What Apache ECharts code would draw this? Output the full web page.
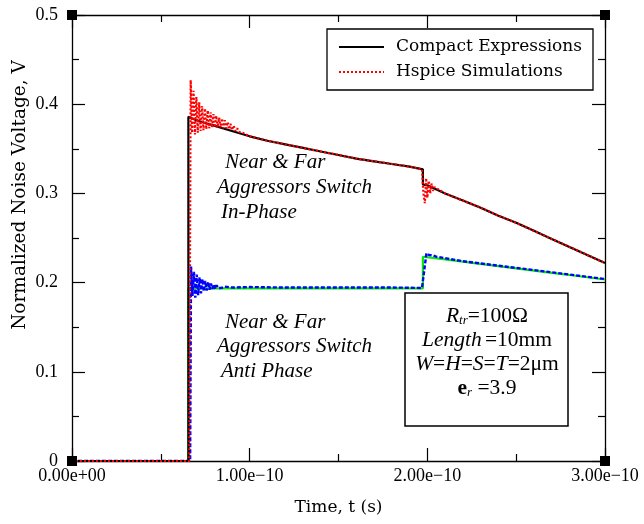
<!DOCTYPE html>
<html>
<head>
<meta charset="utf-8">
<script src="https://cdn.jsdelivr.net/npm/echarts@6/dist/echarts.min.js"></script>
<style>
html,body{margin:0;padding:0;background:#fff;}
#chart{width:644px;height:524px;}
</style>
</head>
<body>
<div id="chart"></div>
<script>
// Time in units of 1e-10 s
const xTickLabels = ['0.00e+00', '1.00e\u221210', '2.00e\u221210', '3.00e\u221210'];
const yTickLabels = ['0', '0.1', '0.2', '0.3', '0.4', '0.5'];

// Near & Far aggressors switch in-phase — compact expressions (black)
const tInCompact = [0, 0.655, 0.655, 0.70, 0.75, 0.80, 0.90, 1.00, 1.10, 1.20, 1.30, 1.40, 1.50, 1.60, 1.70, 1.80, 1.90, 1.975, 1.975, 2.00, 2.10, 2.20, 2.30, 2.40, 2.50, 2.60, 2.70, 2.80, 2.90, 3.00];
const vInCompact = [0, 0, 0.386, 0.382, 0.379, 0.376, 0.370, 0.364, 0.359, 0.355, 0.351, 0.347, 0.343, 0.339, 0.336, 0.333, 0.330, 0.327, 0.310, 0.309, 0.300, 0.292, 0.284, 0.275, 0.267, 0.258, 0.249, 0.240, 0.231, 0.222];

// In-phase — Hspice simulation (red dotted), with ringing
const tInHspice = [0, 0.660, 0.668, 0.676, 0.684, 0.692, 0.700, 0.708, 0.716, 0.724, 0.732, 0.740, 0.748, 0.756, 0.764, 0.772, 0.780, 0.788, 0.796, 0.804, 0.812, 0.820, 0.828, 0.836, 0.844, 0.852, 0.860, 0.868, 0.876, 0.884, 0.892, 0.900, 0.910, 0.920, 0.930, 0.940, 0.960, 1.00, 1.10, 1.20, 1.30, 1.40, 1.50, 1.60, 1.70, 1.80, 1.90, 1.970, 1.978, 1.986, 1.993, 2.000, 2.008, 2.016, 2.024, 2.032, 2.040, 2.050, 2.10, 2.20, 2.30, 2.40, 2.50, 2.60, 2.70, 2.80, 2.90, 3.00];
const vInHspice = [0, 0, 0.427, 0.368, 0.415, 0.366, 0.408, 0.368, 0.402, 0.370, 0.398, 0.371, 0.395, 0.372, 0.393, 0.373, 0.391, 0.374, 0.389, 0.374, 0.387, 0.374, 0.385, 0.374, 0.384, 0.373, 0.382, 0.373, 0.380, 0.372, 0.378, 0.371, 0.376, 0.370, 0.373, 0.369, 0.368, 0.364, 0.359, 0.355, 0.351, 0.347, 0.343, 0.339, 0.336, 0.333, 0.330, 0.327, 0.300, 0.289, 0.317, 0.295, 0.314, 0.300, 0.311, 0.303, 0.307, 0.305, 0.300, 0.292, 0.284, 0.275, 0.267, 0.258, 0.249, 0.240, 0.231, 0.222];

// Anti-phase — compact expressions (green)
const tAntiCompact = [0, 0.655, 0.655, 1.975, 1.975, 2.10, 2.20, 2.30, 2.40, 2.50, 2.60, 2.70, 2.80, 2.90, 3.00];
const vAntiCompact = [0, 0, 0.1935, 0.1935, 0.229, 0.226, 0.2235, 0.221, 0.2185, 0.216, 0.2135, 0.211, 0.2085, 0.206, 0.2035];

// Anti-phase — Hspice simulation (blue dashed), with ringing
const tAntiHspice = [0, 0.665, 0.670, 0.678, 0.686, 0.694, 0.702, 0.710, 0.718, 0.726, 0.734, 0.742, 0.750, 0.758, 0.766, 0.774, 0.782, 0.790, 0.798, 0.806, 0.814, 0.822, 0.830, 0.840, 0.860, 0.90, 1.00, 1.20, 1.40, 1.60, 1.80, 1.970, 1.995, 2.010, 2.030, 2.050, 2.20, 2.40, 2.60, 2.80, 3.00];
const vAntiHspice = [0, 0, 0.218, 0.185, 0.212, 0.183, 0.209, 0.186, 0.206, 0.188, 0.204, 0.190, 0.202, 0.191, 0.201, 0.192, 0.199, 0.193, 0.198, 0.193, 0.197, 0.194, 0.196, 0.194, 0.1955, 0.1945, 0.195, 0.1945, 0.1945, 0.1945, 0.1945, 0.194, 0.233, 0.231, 0.2305, 0.229, 0.224, 0.219, 0.214, 0.209, 0.204];

const zip = (a, b) => a.map((t, i) => [t, b[i]]);

const chart = echarts.init(document.getElementById('chart'), null, {renderer: 'canvas'});

const axisCommon = {
  axisLine: {show: true, onZero: false, lineStyle: {color: '#000', width: 1.3}},
  axisTick: {show: true, inside: true, length: 13, lineStyle: {color: '#000', width: 1.2}},
  minorTick: {show: true, splitNumber: 2, length: 7, lineStyle: {color: '#000', width: 1.2}},
  splitLine: {show: false},
  minorSplitLine: {show: false}
};

const tickFont = {fontFamily: 'Liberation Serif', fontSize: 18, color: '#000'};

const option = {
  animation: false,
  backgroundColor: '#fff',
  grid: {left: 72, right: 39, top: 15, bottom: 63, containLabel: false},
  xAxis: [
    Object.assign({}, axisCommon, {
      type: 'value', min: 0, max: 3, interval: 1, position: 'bottom',
      axisLabel: Object.assign({}, tickFont, {margin: 6, formatter: v => xTickLabels[Math.round(v)]}),
      name: 'Time, t (s)', nameLocation: 'middle', nameGap: 38,
      nameTextStyle: {fontFamily: 'DejaVu Serif', fontSize: 17, color: '#000'}
    }),
    Object.assign({}, axisCommon, {
      type: 'value', min: 0, max: 3, interval: 1, position: 'top',
      axisLabel: {show: false}
    })
  ],
  yAxis: [
    Object.assign({}, axisCommon, {
      type: 'value', min: 0, max: 0.5, interval: 0.1, position: 'left',
      axisLabel: Object.assign({}, tickFont, {margin: 14, formatter: v => yTickLabels[Math.round(v * 10)]})
    }),
    Object.assign({}, axisCommon, {
      type: 'value', min: 0, max: 0.5, interval: 0.1, position: 'right',
      axisLabel: {show: false}
    })
  ],
  legend: {
    data: ['Compact Expressions', 'Hspice Simulations'],
    orient: 'vertical',
    left: 327, top: 29,
    padding: [8, 11, 8, 11],
    itemGap: 5,
    itemWidth: 45, itemHeight: 14,
    selectedMode: false,
    itemStyle: {opacity: 0},
    borderColor: '#000', borderWidth: 1.3, backgroundColor: '#fff',
    textStyle: {fontFamily: 'DejaVu Serif', fontSize: 17, color: '#000', lineHeight: 20, padding: [0, 0, 0, 7]}
  },
  series: [
    {name: 'Compact Expressions (anti-phase)', type: 'line', data: zip(tAntiCompact, vAntiCompact), symbol: 'none',
      lineStyle: {color: '#00ee00', width: 2.2}, z: 2},
    {name: 'Hspice Simulations (anti-phase)', type: 'line', data: zip(tAntiHspice, vAntiHspice), symbol: 'none',
      lineStyle: {color: '#0000ff', width: 2.4, type: [4, 2]}, z: 3},
    {name: 'Compact Expressions', type: 'line', data: zip(tInCompact, vInCompact), symbol: 'none',
      itemStyle: {color: '#000'},
      lineStyle: {color: '#000', width: 2.2}, z: 4},
    {name: 'Hspice Simulations', type: 'line', data: zip(tInHspice, vInHspice), symbol: 'none',
      itemStyle: {color: '#ff0000'},
      lineStyle: {color: '#ff0000', width: 2.2, type: [2, 2]}, z: 5}
  ]
};

chart.setOption(option);

// Decorations: corner squares at axis extremes
const corners = [[0, 0], [3, 0], [0, 0.5], [3, 0.5]].map(p => chart.convertToPixel({gridIndex: 0}, p));
const italic = {fontFamily: 'Liberation Serif', fontStyle: 'italic', fontSize: 21, fill: '#000'};
const paramRich = {
  i: {fontFamily: 'Liberation Serif', fontStyle: 'italic', fontSize: 21.5, fill: '#000'},
  n: {fontFamily: 'Liberation Serif', fontSize: 21.5, fill: '#000'},
  s: {fontFamily: 'Liberation Serif', fontStyle: 'italic', fontSize: 13, fill: '#000', padding: [9, 0, 0, 0]},
  b: {fontFamily: 'Liberation Serif', fontWeight: 'bold', fontSize: 21.5, fill: '#000'}
};
const graphics = corners.map(c => ({type: 'rect', shape: {x: c[0] - 5, y: c[1] - 5, width: 10, height: 10}, style: {fill: '#000'}, z: 100}));
graphics.push(
  {type: 'text', x: 20, y: 195, rotation: Math.PI / 2, style: {text: 'Normalized Noise Voltage, V', fontFamily: 'DejaVu Serif', fontSize: 18.5, fill: '#000', align: 'center', verticalAlign: 'middle'}},
  {type: 'text', x: 225, y: 162, style: Object.assign({text: 'Near & Far', verticalAlign: 'middle'}, italic)},
  {type: 'text', x: 217, y: 187, style: Object.assign({text: 'Aggressors Switch', verticalAlign: 'middle'}, italic)},
  {type: 'text', x: 221, y: 212, style: Object.assign({text: 'In-Phase', verticalAlign: 'middle'}, italic)},
  {type: 'text', x: 225, y: 322, style: Object.assign({text: 'Near & Far', verticalAlign: 'middle'}, italic)},
  {type: 'text', x: 217, y: 346, style: Object.assign({text: 'Aggressors Switch', verticalAlign: 'middle'}, italic)},
  {type: 'text', x: 221, y: 371, style: Object.assign({text: 'Anti Phase', verticalAlign: 'middle'}, italic)},
  {type: 'rect', shape: {x: 405, y: 293, width: 163, height: 133}, style: {fill: '#fff', stroke: '#000', lineWidth: 1.5}, z: 50},
  {type: 'text', x: 487, y: 316, z: 51, style: {text: '{i|R}{s|tr}{n|=100\u03A9}', rich: paramRich, align: 'center', verticalAlign: 'middle'}},
  {type: 'text', x: 487, y: 340, z: 51, style: {text: '{i|Length} {n|=10mm}', rich: paramRich, align: 'center', verticalAlign: 'middle'}},
  {type: 'text', x: 487, y: 364, z: 51, style: {text: '{i|W}{n|=}{i|H}{n|=}{i|S}{n|=}{i|T}{n|=2\u03BCm}', rich: paramRich, align: 'center', verticalAlign: 'middle'}},
  {type: 'text', x: 487, y: 388, z: 51, style: {text: '{b|e}{s|r}{n| =3.9}', rich: paramRich, align: 'center', verticalAlign: 'middle'}}
);
chart.setOption({graphic: graphics});
</script>
</body>
</html>
